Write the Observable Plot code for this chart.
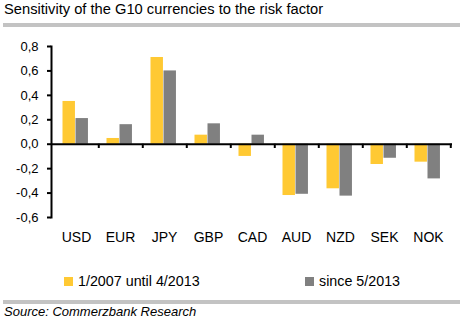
<!DOCTYPE html>
<html><head><meta charset="utf-8">
<script src="https://cdn.jsdelivr.net/npm/d3@7"></script>
<script src="https://cdn.jsdelivr.net/npm/@observablehq/plot@0.6"></script>
<style>
body{margin:0;background:#fff;font-family:"Liberation Sans",Arial,sans-serif;color:#000;}
#wrap{position:relative;width:464px;height:322px;overflow:hidden;background:#fff;}
#title{position:absolute;left:4px;top:1px;font-size:14.7px;line-height:17px;white-space:nowrap;}
.rule{position:absolute;left:3px;width:457px;height:4px;background:#c3c3c3;}
#chart{position:absolute;left:0;top:30px;}
.leg{position:absolute;top:273px;font-size:14.3px;line-height:17px;display:flex;align-items:center;white-space:nowrap;}
.sw{width:9px;height:9px;margin-right:5px;}
#source{position:absolute;left:4px;top:304px;font-style:italic;font-size:13px;line-height:16px;white-space:nowrap;}
</style></head>
<body>
<div id="wrap">
  <div id="title">Sensitivity of the G10 currencies to the risk factor</div>
  <div class="rule" style="top:23px"></div>
  <div id="chart"></div>
  <div id="legend"></div>
  <div class="rule" style="top:300px"></div>
  <div id="source">Source: Commerzbank Research</div>
</div>
<script>
const currencies = ["USD", "EUR", "JPY", "GBP", "CAD", "AUD", "NZD", "SEK", "NOK"];
const seriesNames = ["1/2007 until 4/2013", "since 5/2013"];
const series1 = [0.35, 0.047, 0.71, 0.074, -0.10, -0.42, -0.365, -0.166, -0.147];
const series2 = [0.21, 0.16, 0.60, 0.167, 0.074, -0.41, -0.425, -0.115, -0.284];
const yTicks = [-0.6, -0.4, -0.2, 0, 0.2, 0.4, 0.6, 0.8];
const colors = ["#ffc933", "#808080"];

const W = 464, H = 220, mL = 51, mR = 12, mT = 16, mB = 33;
const bw = (W - mL - mR) / currencies.length;

const d1 = currencies.map((c, i) => ({currency: c, value: series1[i]}));
const d2 = currencies.map((c, i) => ({currency: c, value: series2[i]}));

const chart = Plot.plot({
  width: W, height: H,
  marginLeft: mL, marginRight: mR, marginTop: mT, marginBottom: mB,
  style: {fontFamily: "'Liberation Sans', Arial, sans-serif", fontSize: "13px", color: "#000", background: "#fff"},
  x: {type: "band", domain: currencies, padding: 0, axis: null},
  y: {domain: [-0.6, 0.8], axis: null},
  marks: [
    Plot.barY(d1, {x: "currency", y: "value", fill: colors[0], insetLeft: 8.5, insetRight: bw - 21.5}),
    Plot.barY(d2, {x: "currency", y: "value", fill: colors[1], insetLeft: 21.5, insetRight: bw - 34.5}),
    Plot.ruleY([0], {stroke: "#000", strokeWidth: 2}),
    Plot.ruleX(currencies, {x: d => d, y1: 0, y2: -0.035, dx: bw / 2, stroke: "#000", strokeWidth: 2}),
    Plot.frame({anchor: "left", stroke: "#000", strokeWidth: 2}),
    Plot.axisY({ticks: yTicks, tickFormat: d => d.toFixed(1).replace(".", ","), tickSize: 4, tickPadding: 9, fontSize: 13, strokeWidth: 2, label: null}),
    Plot.axisX({tickSize: 0, tickPadding: 15, fontSize: 14, label: null})
  ]
});
document.getElementById("chart").appendChild(chart);

const legendPos = [64, 305];
const legend = document.getElementById("legend");
seriesNames.forEach((name, i) => {
  const item = document.createElement("div");
  item.className = "leg";
  item.style.left = legendPos[i] + "px";
  item.innerHTML = `<span class="sw" style="background:${colors[i]}"></span><span>${name}</span>`;
  legend.appendChild(item);
});
</script>
</body></html>
